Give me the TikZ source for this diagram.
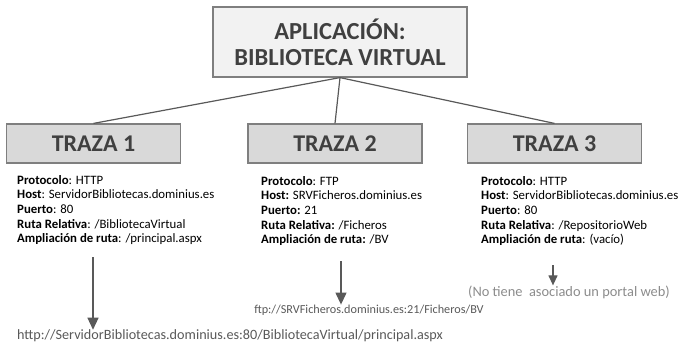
\documentclass[tikz,border=0pt]{standalone}
\usepackage{fontspec}
\setmainfont{Carlito}
\usetikzlibrary{arrows.meta}
\definecolor{boxgray}{HTML}{D9D9D9}
\definecolor{appfill}{HTML}{F2F2F2}
\definecolor{edge}{HTML}{7F7F7F}
\definecolor{ink}{HTML}{404040}
\definecolor{urlgray}{HTML}{595959}
\definecolor{notegray}{HTML}{8C8C8C}
\tikzset{
  app/.style={draw=edge,line width=1.2pt,fill=appfill,align=center,text=ink,
    minimum width=254pt,minimum height=70pt,font=\fontsize{24.5}{26}\selectfont\bfseries},
  traza/.style={draw=edge,line width=1.2pt,fill=boxgray,text=ink,
    minimum width=174pt,minimum height=39pt,font=\fontsize{24}{26}\selectfont\bfseries},
  info/.style={anchor=north west,inner sep=0pt,align=left,
    font=\fontsize{12.8}{14.7}\selectfont},
  enlace/.style={inner sep=0pt,text=urlgray,font=\fontsize{14.2}{16}\selectfont},
  link/.style={draw=urlgray,line width=1.2pt},
  flow/.style={-{Triangle[length=12pt,width=11pt]},draw=urlgray,fill=urlgray,line width=1.2pt}
}

\begin{document}
\begin{tikzpicture}[x=1pt,y=-1pt]
  \useasboundingbox (0,0) rectangle (678,346);
  \node[app] (app) at (340,42) {APLICACIÓN:\\BIBLIOTECA VIRTUAL};
  \node[traza] (t1) at (93.5,143.5) {TRAZA 1};
  \node[traza] (t2) at (335,143.5) {TRAZA 2};
  \node[traza] (t3) at (554.5,143.5) {TRAZA 3};
  \draw[link] (app.south) -- (t1.north);
  \draw[link] (app.south) -- (t2.north);
  \draw[link] (app.south) -- (t3.north);

  \node[info] (i1) at (17,175)
    {\textbf{Protocolo}: HTTP\\
     \textbf{Host}: ServidorBibliotecas.dominius.es\\
     \textbf{Puerto}: 80\\
     \textbf{Ruta Relativa}: /BibliotecaVirtual\\
     \textbf{Ampliación de ruta}: /principal.aspx};
  \node[info] (i2) at (261,176)
    {\textbf{Protocolo}: FTP\\
     \textbf{Host:} SRVFicheros.dominius.es\\
     \textbf{Puerto:} 21\\
     \textbf{Ruta Relativa:} /Ficheros\\
     \textbf{Ampliación de ruta:} /BV};
  \node[info] (i3) at (481,176)
    {\textbf{Protocolo}: HTTP\\
     \textbf{Host}: ServidorBibliotecas.dominius.es\\
     \textbf{Puerto}: 80\\
     \textbf{Ruta Relativa}: /RepositorioWeb\\
     \textbf{Ampliación de ruta}: (vacío)};

  \node[enlace] (u1) at (230,336)
    {http://ServidorBibliotecas.dominius.es:80/BibliotecaVirtual/principal.aspx};
  \node[enlace,font=\fontsize{12.2}{14}\selectfont] (u2) at (369,310)
    {ftp://SRVFicheros.dominius.es:21/Ficheros/BV};
  \node[enlace,text=notegray,font=\fontsize{14.4}{16}\selectfont] (u3) at (569,292)
    {(No tiene\ \ asociado un portal web)};

  \coordinate (f1) at (93,257);
  \coordinate (f2) at (341,261);
  \coordinate (f3) at (553,265);
  \draw[flow] (f1) -- (f1 |- u1.north);
  \draw[flow] (f2) -- (f2 |- u2.north);
  \draw[flow,-{Triangle[length=10pt,width=9pt]}] (f3) -- (f3 |- u3.north);
\end{tikzpicture}
\end{document}
